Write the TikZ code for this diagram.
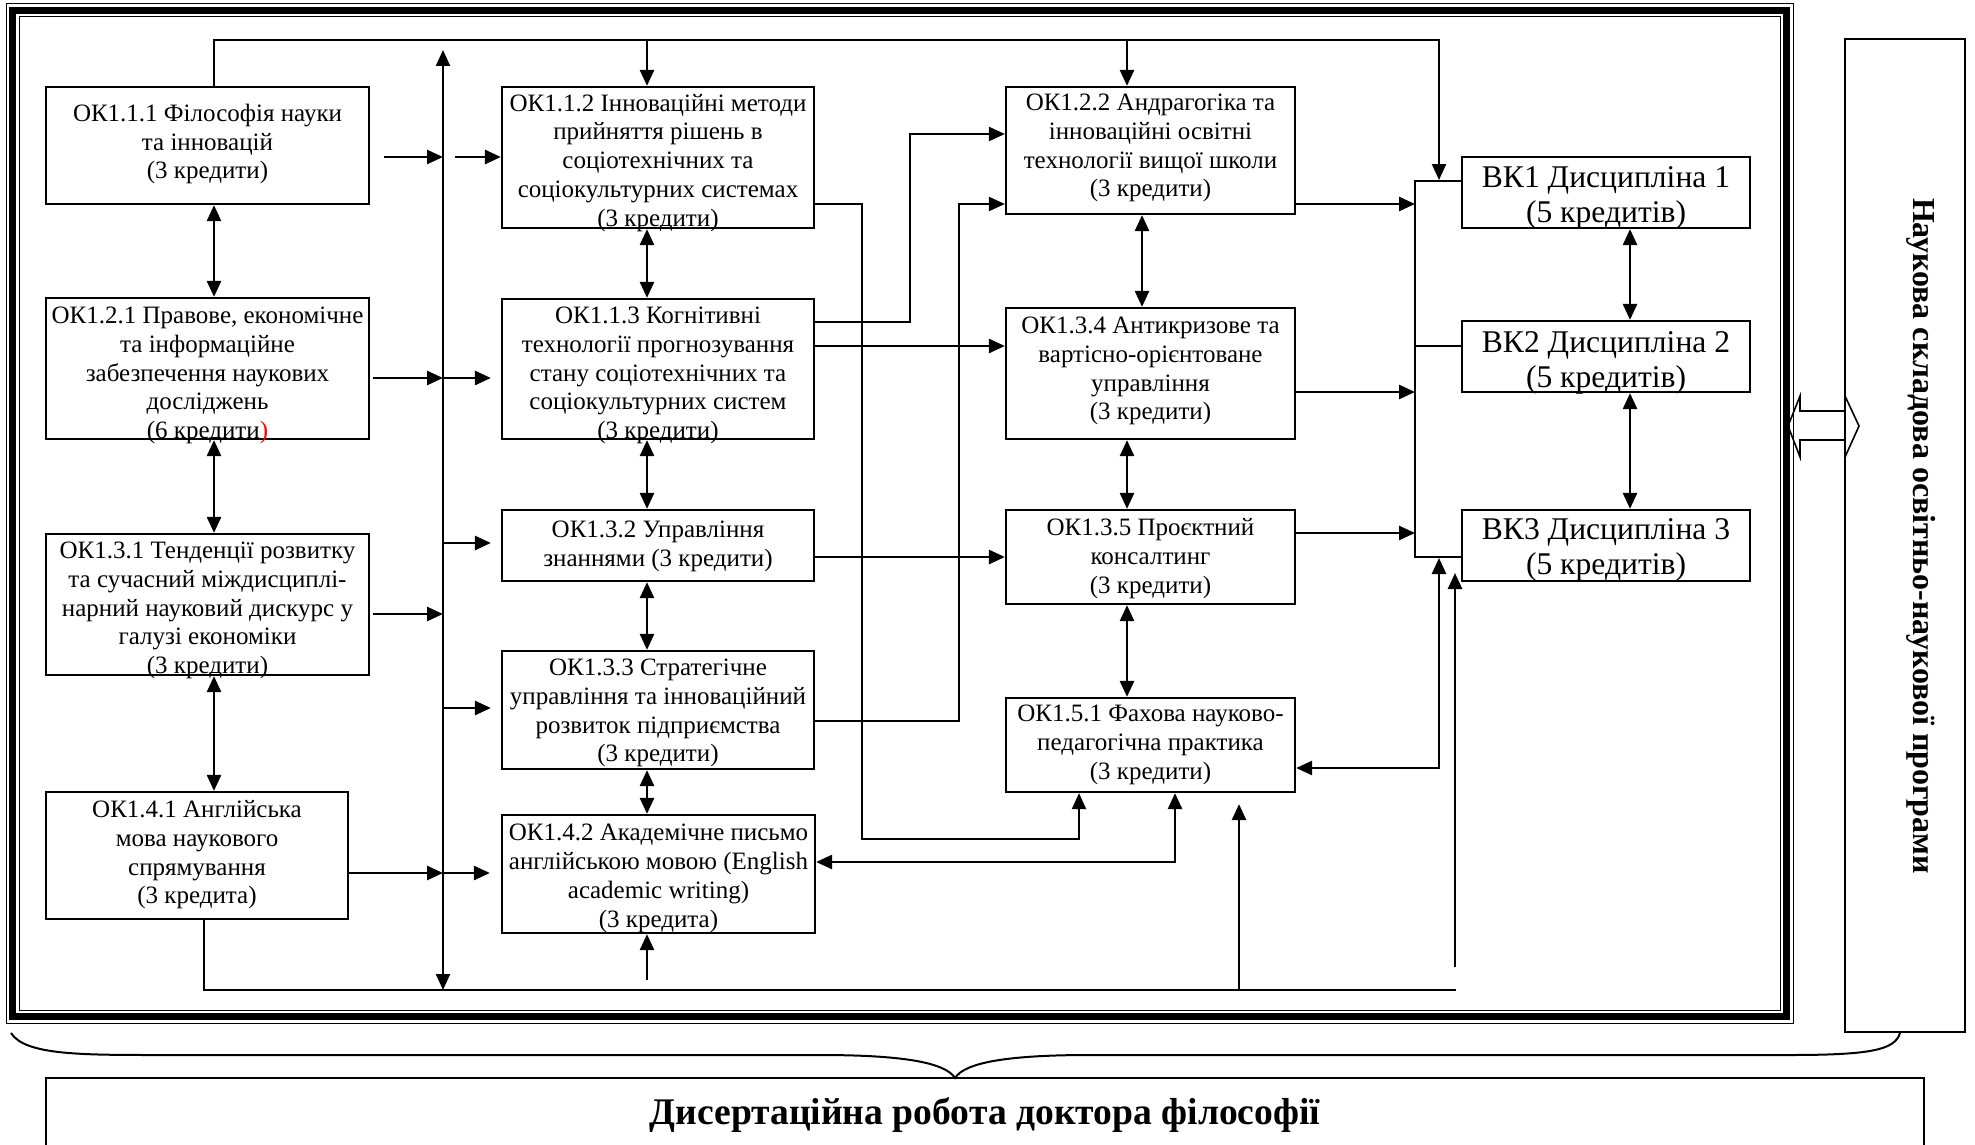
\documentclass[tikz,border=0pt]{standalone}
\usepackage{fontspec}
\setmainfont{Liberation Serif}
\usetikzlibrary{arrows.meta,fit,calc}
\newcommand\okfont{\fontsize{12.5pt}{14.4pt}\selectfont}
\newcommand\vkfont{\fontsize{15.8pt}{17.5pt}\selectfont}
\tikzset{
  okbox/.style={draw, line width=1.1pt, inner sep=0pt, rectangle},
  oktxt/.style={anchor=north, align=center, inner sep=0pt, font=\okfont, execute at begin node={\rule{0pt}{10pt}}},
  vktxt/.style={anchor=north, align=center, inner sep=0pt, font=\vkfont, execute at begin node={\rule{0pt}{12pt}}},
  tipa/.tip={Triangle[length=8pt,width=7pt]},
  ar/.style={line width=1.3pt, -tipa},
  dar/.style={line width=1.3pt, tipa-tipa},
  ln/.style={line width=1pt},
  lnar/.style={line width=1.1pt, -tipa},
  lndar/.style={line width=1.1pt, tipa-tipa},
}
\begin{document}
\begin{tikzpicture}[x=0.5pt,y=-0.5pt]
\clip (0,0) rectangle (1975,1145);
% outer frame
\draw[line width=0.5pt] (6,4) rectangle (1793,1023);
\draw[line width=3.5pt] (12.5,10.5) rectangle (1786.5,1016.5);
\draw[line width=0.5pt] (19,17) rectangle (1780,1010);

% column 1
\node[okbox, fit={(46,87)(369,204)}] (a1) {};
\node[oktxt] (a1t) at (207.5,103.5) {ОК1.1.1 Філософія науки\\та інновацій\\(3 кредити)};
\node[okbox, fit={(46,298)(369,439)}] (a2) {};
\node[oktxt] (a2t) at (207.5,306.5) {ОК1.2.1 Правове, економічне\\та інформаційне\\забезпечення наукових\\досліджень\\(6 кредити\textcolor{red}{)}};
\node[okbox, fit={(46,534)(369,675)}] (a3) {};
\node[oktxt] (a3t) at (207.5,541.5) {ОК1.3.1 Тенденції розвитку\\та сучасний міждисциплі-\\нарний науковий дискурс у\\галузі економіки\\(3 кредити)};
\node[okbox, fit={(46,792)(348,919)}] (a4) {};
\node[oktxt] (a4t) at (197,800) {ОК1.4.1 Англійська\\мова наукового\\спрямування\\(3 кредита)};

% column 2
\node[okbox, fit={(502,87)(814,228)}] (b1) {};
\node[oktxt] (b1t) at (658,93.5) {ОК1.1.2 Інноваційні методи\\прийняття рішень в\\соціотехнічних та\\соціокультурних системах\\(3 кредити)};
\node[okbox, fit={(502,299)(814,439)}] (b2) {};
\node[oktxt] (b2t) at (658,306.5) {ОК1.1.3 Когнітивні\\технології прогнозування\\стану соціотехнічних та\\соціокультурних систем\\(3 кредити)};
\node[okbox, fit={(502,510)(814,581)}] (b3) {};
\node[oktxt] (b3t) at (658,520.5) {ОК1.3.2 Управління\\знаннями (3 кредити)};
\node[okbox, fit={(502,651)(814,769)}] (b4) {};
\node[oktxt] (b4t) at (658,658.5) {ОК1.3.3 Стратегічне\\управління та інноваційний\\розвиток підприємства\\(3 кредити)};
\node[okbox, fit={(502,815)(815,933)}] (b5) {};
\node[oktxt] (b5t) at (658.5,824) {ОК1.4.2 Академічне письмо\\англійською мовою (English\\academic writing)\\(3 кредита)};

% column 3
\node[okbox, fit={(1006,87)(1295,214)}] (c1) {};
\node[oktxt] (c1t) at (1150.5,93.5) {ОК1.2.2 Андрагогіка та\\інноваційні освітні\\технології вищої школи\\(3 кредити)};
\node[okbox, fit={(1006,308)(1295,439)}] (c2) {};
\node[oktxt] (c2t) at (1150.5,316.5) {ОК1.3.4 Антикризове та\\вартісно-орієнтоване\\управління\\(3 кредити)};
\node[okbox, fit={(1006,510)(1295,604)}] (c3) {};
\node[oktxt] (c3t) at (1150.5,518) {ОК1.3.5 Проєктний\\консалтинг\\(3 кредити)};
\node[okbox, fit={(1006,698)(1295,792)}] (c4) {};
\node[oktxt] (c4t) at (1150.5,705) {ОК1.5.1 Фахова науково-\\педагогічна практика\\(3 кредити)};

% VK boxes
\node[okbox, fit={(1462,157)(1750,228)}] (v1) {};
\node[vktxt] (v1t) at (1606,166) {ВК1 Дисципліна 1\\(5 кредитів)};
\node[okbox, fit={(1462,321)(1750,392)}] (v2) {};
\node[vktxt] (v2t) at (1606,331) {ВК2 Дисципліна 2\\(5 кредитів)};
\node[okbox, fit={(1462,510)(1750,581)}] (v3) {};
\node[vktxt] (v3t) at (1606,518.5) {ВК3 Дисципліна 3\\(5 кредитів)};

% right box
\node[okbox, fit={(1845,39)(1965,1032)}] (r) {};
\node[rotate=-90, font=\fontsize{16pt}{18pt}\selectfont\bfseries, inner sep=0pt] (rt) at (1921,536) {Наукова складова освітньо-наукової програми};

% bottom box
\node[okbox, fit={(46,1078)(1924,1175)}] (d) {};
\node[anchor=base, font=\fontsize{18.8pt}{21pt}\selectfont\bfseries, inner sep=0pt] (dt) at (985,1124) {Дисертаційна робота доктора філософії};

% brace
\draw[line width=1pt] (11,1033) .. controls (25,1055) and (80,1055) .. (160,1055) -- (820,1055)
  .. controls (900,1055) and (945,1062) .. (955,1078)
  .. controls (965,1062) and (1010,1055) .. (1090,1055) -- (1790,1055)
  .. controls (1870,1055) and (1895,1050) .. (1900,1033);

% block double arrow
\draw[line width=0.8pt] (1788,426) -- (1800,396) -- (1800,411) -- (1845,411) -- (1845,396) -- (1859,426)
  -- (1845,457) -- (1845,440) -- (1800,440) -- (1800,457) -- cycle;

% named free ends
\coordinate (bustop) at (443,50);
\coordinate (busbot) at (443,990);
\coordinate (topend) at (1439,180);

% top line
\draw[lnar] (a1.north -| 214,0) -- (214,40) -- (1439,40) -- (topend);
\draw[ar] (647,40) -- (b1.north -| 647,0);
\draw[ar] (1127,40) -- (c1.north -| 1127,0);

% bus
\draw[lndar] (busbot) -- (bustop);

% column 1 double arrows
\draw[dar] (a1.south -| 214,0) -- (a2.north -| 214,0);
\draw[dar] (a2.south -| 214,0) -- (a3.north -| 214,0);
\draw[dar] (a3.south -| 214,0) -- (a4.north -| 214,0);

% column 1 to bus
\draw[ar] ($(a1.east |- 0,157)+(14,0)$) -- (bustop |- 0,157);
\draw[ar] ($(a2.east |- 0,378)+(3,0)$) -- (bustop |- 0,378);
\draw[ar] ($(a3.east |- 0,614)+(3,0)$) -- (bustop |- 0,614);
\draw[ar] (a4.east |- 0,873) -- (bustop |- 0,873);

% bus to column 2
\draw[ar] (455,157) -- (b1.west |- 0,157);
\draw[ar] (bustop |- 0,378) -- ($(b2.west |- 0,378)+(-10,0)$);
\draw[ar] (bustop |- 0,543) -- ($(b3.west |- 0,543)+(-10,0)$);
\draw[ar] (bustop |- 0,708) -- ($(b4.west |- 0,708)+(-10,0)$);
\draw[ar] (bustop |- 0,873) -- ($(b5.west |- 0,873)+(-11,0)$);

% column 2 double arrows
\draw[dar] (b1.south -| 647,0) -- (b2.north -| 647,0);
\draw[dar] (b2.south -| 647,0) -- (b3.north -| 647,0);
\draw[dar] (b3.south -| 647,0) -- (b4.north -| 647,0);
\draw[dar] (b4.south -| 647,0) -- (b5.north -| 647,0);
\draw[ar] (647,980) -- (b5.south -| 647,0);

% column 2 to column 3
\draw[lnar] (b1.east |- 0,204) -- (862,204) -- (862,839) -- (1079,839) -- (c4.south -| 1079,0);
\draw[lnar] (b2.east |- 0,322) -- (910,322) -- (910,134) -- (c1.west |- 0,134);
\draw[ar] (b2.east |- 0,346) -- (c2.west |- 0,346);
\draw[ar] (b3.east |- 0,557) -- (c3.west |- 0,557);
\draw[lnar] (b4.east |- 0,721) -- (959,721) -- (959,204) -- (c1.west |- 0,204);
\draw[dar] (b5.east |- 0,862) -- (1175,862) -- (c4.south -| 1175,0);

% bottom line
\draw[ln] (a4.south -| 204,0) -- (204,990) -- (1456,990);
\draw[ar] (1239,990) -- ($(c4.south -| 1239,0)+(0,11)$);
\draw[ar] (1455,967) -- (1455,573);

% column 3 double arrows
\draw[dar] (c1.south -| 1142,0) -- (c2.north -| 1142,0);
\draw[dar] (c2.south -| 1127,0) -- (c3.north -| 1127,0);
\draw[dar] (c3.south -| 1127,0) -- (c4.north -| 1127,0);

% column 3 to bracket
\coordinate (brtop) at (1415,181);
\coordinate (brbot) at (1415,557);
\draw[ar] (c1.east |- 0,204) -- (brtop |- 0,204);
\draw[ar] (c2.east |- 0,392) -- (brtop |- 0,392);
\draw[ar] (c3.east |- 0,533) -- (brtop |- 0,533);
\draw[dar] (c4.east |- 0,768) -- (1439,768) -- (1439,558);

% bracket
\draw[ln] (v1.west |- brtop) -- (brtop) -- (brbot) -- (v3.west |- brbot);
\draw[ln] (brtop |- 0,346) -- (v2.west |- 0,346);

% VK double arrows
\draw[dar] (v1.south -| 1630,0) -- (v2.north -| 1630,0);
\draw[dar] (v2.south -| 1630,0) -- (v3.north -| 1630,0);
\end{tikzpicture}
\end{document}
